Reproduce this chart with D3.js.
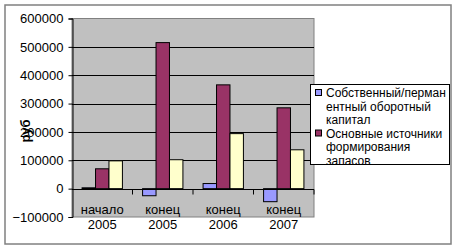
<!DOCTYPE html>
<html>
<head>
<meta charset="utf-8">
<script src="https://cdn.jsdelivr.net/npm/d3@7"></script>
<style>
  body { margin: 0; background: #fff; }
  svg { display: block; font-family: "Liberation Sans", Arial, sans-serif; }
</style>
</head>
<body>
<svg width="457" height="251"></svg>
<script>
const categories = ['начало 2005', 'конец 2005', 'конец 2006', 'конец 2007'];
const categoryLines = [['начало', '2005'], ['конец', '2005'], ['конец', '2006'], ['конец', '2007']];
const ownCapital = [3000, -25000, 18000, -46000];
const mainSources = [70000, 515000, 366000, 285000];
const totalSources = [98000, 102000, 194000, 137000];
const seriesNames = ['Собственный/перманентный оборотный капитал', 'Основные источники формирования запасов', 'Общая величина источников'];
const legendLines = [['Собственный/перман', 'ентный оборотный', 'капитал'], ['Основные источники', 'формирования', 'запасов'], ['Общая величина', 'источников']];
const yTicks = [-100000, 0, 100000, 200000, 300000, 400000, 500000, 600000];
const yAxisLabel = 'руб';

const svg = d3.select('svg');
const colors = ['#9999FF', '#993366', '#FFFFCC'];
const values = [ownCapital, mainSources, totalSources];

// chart border
svg.append('rect')
  .attr('x', 5).attr('y', 5).attr('width', 446).attr('height', 239)
  .attr('fill', '#fff').attr('stroke', '#808080').attr('stroke-width', 1.5);

const plot = { left: 72, right: 314, top: 18.5, bottom: 217 };

const x0 = d3.scaleBand()
  .domain(categories)
  .range([plot.left, plot.right])
  .padding(0);

const x1 = d3.scaleBand()
  .domain(d3.range(seriesNames.length))
  .range([0, x0.bandwidth()])
  .paddingInner(0)
  .paddingOuter(0.75);

const y = d3.scaleLinear()
  .domain([-100000, 600000])
  .range([plot.bottom, plot.top]);

// plot area background
svg.append('rect')
  .attr('x', plot.left).attr('y', plot.top)
  .attr('width', plot.right - plot.left).attr('height', plot.bottom - plot.top)
  .attr('fill', '#C0C0C0').attr('stroke', '#808080');

// gridlines
svg.append('g')
  .selectAll('line')
  .data(yTicks.filter(t => t !== -100000 && t !== 600000))
  .join('line')
  .attr('x1', plot.left).attr('x2', plot.right)
  .attr('y1', d => Math.round(y(d)) + 0.5).attr('y2', d => Math.round(y(d)) + 0.5)
  .attr('stroke', '#000');

// y axis
const yAxisG = svg.append('g')
  .attr('transform', `translate(${plot.left + 0.5},0)`)
  .call(d3.axisLeft(y).tickValues(yTicks).tickSize(4).tickPadding(5).tickFormat(d3.format('d')));
yAxisG.select('.domain').attr('stroke', '#000');
yAxisG.selectAll('.tick text')
  .attr('font-size', 13).attr('fill', '#000')
  .attr('font-family', '"Liberation Sans", Arial, sans-serif');

// y-axis label
svg.append('text')
  .attr('transform', `translate(30, 131) rotate(-90)`)
  .attr('text-anchor', 'middle')
  .attr('font-size', 13)
  .attr('font-weight', 'bold')
  .text(yAxisLabel);

// bars
const groups = svg.append('g')
  .selectAll('g')
  .data(categories)
  .join('g')
  .attr('transform', d => `translate(${x0(d)},0)`);

groups.selectAll('rect')
  .data((d, i) => values.map((v, s) => ({ s, v: v[i] })))
  .join('rect')
  .attr('x', d => x1(d.s))
  .attr('width', x1.bandwidth())
  .attr('y', d => y(Math.max(0, d.v)))
  .attr('height', d => Math.abs(y(d.v) - y(0)))
  .attr('fill', d => colors[d.s])
  .attr('stroke', '#000')
  .attr('stroke-width', 1);

// x axis (zero line)
const xAxisG = svg.append('g')
  .attr('transform', `translate(0,${Math.round(y(0)) + 0.5})`);
xAxisG.append('line')
  .attr('x1', plot.left).attr('x2', plot.right)
  .attr('stroke', '#000');
xAxisG.selectAll('.tick')
  .data(categories.slice(1).concat(['end']))
  .join('line')
  .attr('x1', (d, i) => x0(categories[i]) + x0.bandwidth())
  .attr('x2', (d, i) => x0(categories[i]) + x0.bandwidth())
  .attr('y1', 0).attr('y2', 5)
  .attr('stroke', '#000');

// category labels
groups.append('text')
  .attr('text-anchor', 'middle')
  .attr('font-size', 13)
  .selectAll('tspan')
  .data((d, i) => categoryLines[i])
  .join('tspan')
  .attr('x', x0.bandwidth() / 2)
  .attr('y', (d, i) => 214 + i * 15)
  .text(d => d);

// legend
const legend = { x: 310, y: 84, w: 139, h: 80 };
svg.append('clipPath').attr('id', 'legend-clip')
  .append('rect').attr('x', legend.x).attr('y', legend.y).attr('width', legend.w).attr('height', legend.h);
svg.append('rect')
  .attr('x', legend.x + 0.5).attr('y', legend.y + 0.5)
  .attr('width', legend.w).attr('height', legend.h)
  .attr('fill', '#fff').attr('stroke', '#000');

const legendG = svg.append('g').attr('clip-path', 'url(#legend-clip)');
let lineY = legend.y + 13;
seriesNames.forEach((name, i) => {
  legendG.append('rect')
    .attr('x', legend.x + 5.5).attr('y', lineY - 7.5)
    .attr('width', 6).attr('height', 6)
    .attr('fill', colors[i]).attr('stroke', '#000');
  legendLines[i].forEach(line => {
    legendG.append('text')
      .attr('x', legend.x + 16)
      .attr('y', lineY)
      .attr('font-size', 12)
      .text(line);
    lineY += 13.5;
  });
});
</script>
</body>
</html>
